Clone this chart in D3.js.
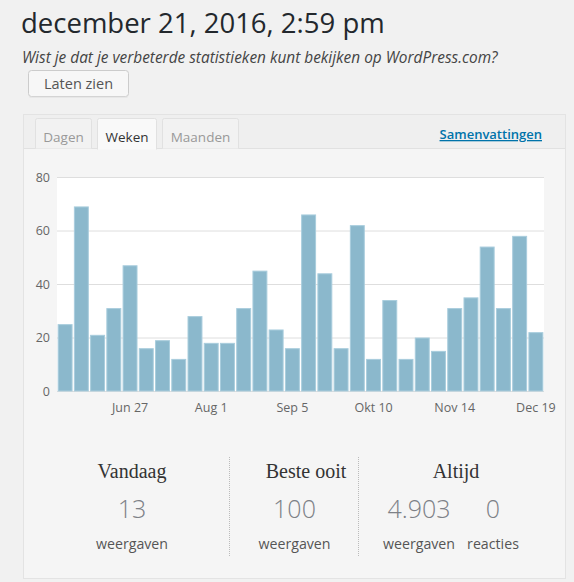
<!DOCTYPE html>
<html>
<head>
<meta charset="utf-8">
<script src="https://cdn.jsdelivr.net/npm/d3@7"></script>
<style>
  html, body { margin: 0; padding: 0; background: #f1f1f1; }
  svg { display: block; font-family: "Open Sans", sans-serif; }
</style>
</head>
<body>
<script>
// weekly views (week start dates)
var weeks = ["2016-05-30","2016-06-06","2016-06-13","2016-06-20","2016-06-27",
  "2016-07-04","2016-07-11","2016-07-18","2016-07-25","2016-08-01",
  "2016-08-08","2016-08-15","2016-08-22","2016-08-29","2016-09-05",
  "2016-09-12","2016-09-19","2016-09-26","2016-10-03","2016-10-10",
  "2016-10-17","2016-10-24","2016-10-31","2016-11-07","2016-11-14",
  "2016-11-21","2016-11-28","2016-12-05","2016-12-12","2016-12-19"];
var views = [25,69,21,31,47,16,19,12,28,18,18,31,45,23,16,66,44,16,62,12,34,12,20,15,31,35,54,31,58,22];
var tickWeeks = ["2016-06-27","2016-08-01","2016-09-05","2016-10-10","2016-11-14","2016-12-19"];
var tickLabels = ["Jun 27","Aug 1","Sep 5","Okt 10","Nov 14","Dec 19"];
var yTicks = [0,20,40,60,80];

var tabs = ["Dagen","Weken","Maanden"];
var statTitles = ["Vandaag","Beste ooit","Altijd"];
var statValues = ["13","100","4.903","0"];
var statUnits = ["weergaven","weergaven","weergaven","reacties"];

var W = 574, H = 582;
var plot = {left: 57, right: 544, top: 177, bottom: 391};

var svg = d3.select("body").append("svg")
    .attr("width", W)
    .attr("height", H);

// header
svg.append("text")
    .attr("x", 21).attr("y", 33)
    .attr("font-size", 27.5)
    .attr("fill", "#23282d")
    .text("december 21, 2016, 2:59 pm");

svg.append("text")
    .attr("x", 22).attr("y", 63)
    .attr("font-size", 15.4)
    .attr("font-style", "italic")
    .attr("fill", "#444")
    .text("Wist je dat je verbeterde statistieken kunt bekijken op WordPress.com?");

var btn = svg.append("g").attr("transform", "translate(28.5,70.5)");
btn.append("rect")
    .attr("width", 100).attr("height", 26).attr("rx", 3)
    .attr("fill", "#f7f7f7").attr("stroke", "#ccc");
btn.append("line")
    .attr("x1", 1).attr("x2", 99).attr("y1", 26.5).attr("y2", 26.5)
    .attr("stroke", "#ddd");
btn.append("text")
    .attr("x", 50).attr("y", 18.5)
    .attr("text-anchor", "middle")
    .attr("font-size", 14.5)
    .attr("fill", "#555")
    .text("Laten zien");

// panel
var panel = svg.append("g");
panel.append("rect")
    .attr("x", 23.5).attr("y", 114.5)
    .attr("width", 542).attr("height", 464)
    .attr("fill", "#f5f5f5").attr("stroke", "#e3e3e3");
panel.append("rect")
    .attr("x", 24).attr("y", 115)
    .attr("width", 541).attr("height", 33)
    .attr("fill", "#efefef");
panel.append("line")
    .attr("x1", 24).attr("x2", 565).attr("y1", 148.5).attr("y2", 148.5)
    .attr("stroke", "#e1e1e1");

var tabX = [35.5, 97.5, 162.5];
var tabW = [56, 59, 76];
tabs.forEach(function(t, i) {
  var active = t === "Weken";
  var g = panel.append("g").attr("transform", "translate(" + tabX[i] + ",118.5)");
  g.append("path")
      .attr("d", "M0," + (active ? 31 : 30) + "V2Q0,0 2,0H" + (tabW[i] - 2) + "Q" + tabW[i] + ",0 " + tabW[i] + ",2V" + (active ? 31 : 30))
      .attr("fill", active ? "#f9f9f9" : "#f2f2f2")
      .attr("stroke", "#e1e1e1");
  g.append("text")
      .attr("x", tabW[i] / 2).attr("y", 23)
      .attr("text-anchor", "middle")
      .attr("font-size", 13.5)
      .attr("fill", active ? "#333" : "#999")
      .text(t);
});

panel.append("text")
    .attr("x", 542).attr("y", 139)
    .attr("text-anchor", "end")
    .attr("font-size", 13)
    .attr("font-weight", 600)
    .attr("fill", "#0073aa")
    .attr("text-decoration", "underline")
    .text("Samenvattingen");

// chart
var x = d3.scaleBand()
    .domain(weeks)
    .range([plot.left, plot.right])
    .paddingInner(0.08)
    .paddingOuter(0.04);

var y = d3.scaleLinear()
    .domain([0, 80])
    .range([plot.bottom, plot.top]);

svg.append("rect")
    .attr("x", plot.left).attr("y", plot.top)
    .attr("width", plot.right - plot.left)
    .attr("height", plot.bottom - plot.top)
    .attr("fill", "#fff");

var grid = svg.append("g")
    .attr("transform", "translate(" + plot.left + ",0)")
    .call(d3.axisLeft(y).tickValues(yTicks).tickSize(-(plot.right - plot.left)).tickFormat(""));
grid.select(".domain").remove();
grid.selectAll("line").attr("stroke", "#dedede");

svg.append("g")
    .selectAll("rect")
    .data(views)
    .enter().append("rect")
    .attr("x", function(d, i) { return x(weeks[i]) + 0.5; })
    .attr("y", function(d) { return y(d) + 0.5; })
    .attr("width", x.bandwidth() - 1)
    .attr("height", function(d) { return plot.bottom - y(d) - 0.5; })
    .attr("fill", "#8bb8cc")
    .attr("stroke", "#a9cddd")
    .attr("stroke-width", 1);

var yAxis = svg.append("g")
    .attr("transform", "translate(50,0)")
    .call(d3.axisLeft(y).tickValues(yTicks).tickSize(0).tickPadding(0));
yAxis.select(".domain").remove();
yAxis.selectAll("text")
    .style("font-family", "'Open Sans', sans-serif")
    .style("font-size", "12.5px")
    .attr("fill", "#666");

var xAxis = svg.append("g")
    .attr("transform", "translate(0," + plot.bottom + ")")
    .call(d3.axisBottom(x).tickValues(tickWeeks).tickSize(0).tickPadding(12)
      .tickFormat(function(d, i) { return tickLabels[i]; }));
xAxis.select(".domain").remove();
xAxis.selectAll("text")
    .style("font-family", "'Open Sans', sans-serif")
    .style("font-size", "12.5px")
    .attr("fill", "#666");

// summary stats
var titleX = [132, 306, 456];
titleX.forEach(function(cx, i) {
  svg.append("text")
      .attr("x", cx).attr("y", 478)
      .attr("text-anchor", "middle")
      .style("font-family", "'Liberation Serif', 'DejaVu Serif', serif")
      .style("font-size", "20px")
      .attr("fill", "#333")
      .text(statTitles[i]);
});

var valueX = [132, 294.5, 419, 493];
valueX.forEach(function(cx, i) {
  svg.append("text")
      .attr("x", cx).attr("y", 518)
      .attr("text-anchor", "middle")
      .attr("font-size", 25)
      .attr("font-weight", 300)
      .attr("fill", "#7d8187")
      .text(statValues[i]);
  svg.append("text")
      .attr("x", cx).attr("y", 549)
      .attr("text-anchor", "middle")
      .attr("font-size", 14.2)
      .attr("fill", "#555")
      .text(statUnits[i]);
});

[229.5, 358.5].forEach(function(lx) {
  svg.append("line")
      .attr("x1", lx).attr("x2", lx)
      .attr("y1", 457).attr("y2", 556)
      .attr("stroke", "#bbb")
      .attr("stroke-dasharray", "1,1");
});
</script>
</body>
</html>
